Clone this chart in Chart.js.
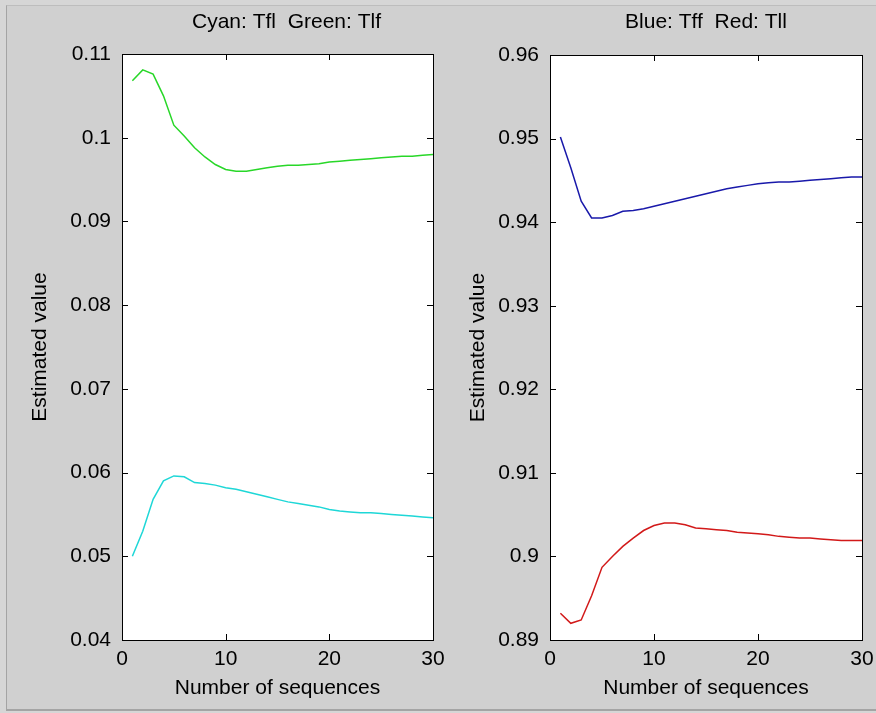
<!DOCTYPE html>
<html>
<head>
<meta charset="utf-8">
<script src="https://cdn.jsdelivr.net/npm/chart.js@4/dist/chart.umd.min.js"></script>
<style>
  body { margin: 0; background: #d6d6d6; }
  #frame {
    position: absolute; left: 6px; top: 5px; width: 870px; height: 703px;
    background: #d0d0d0;
    border-left: 1px solid #a4a4a4; border-top: 1px solid #bdbdbd; border-bottom: 2px solid #a4a4a4;
  }
  canvas { position: absolute; top: 0; }
  #left { left: 0; }
  #right { left: 438px; }
</style>
</head>
<body>
<div id="frame"></div>
<canvas id="left" width="460" height="713"></canvas>
<canvas id="right" width="438" height="713"></canvas>
<script>
// x values: number of sequences
var seqs = []
for (var i = 1; i <= 30; i++) seqs.push(i)

var x_ticks = [0, 10, 20, 30]

// left panel
var tfl = [0.0500, 0.0530, 0.0568, 0.0590, 0.0596, 0.0595, 0.0588, 0.0587, 0.0585, 0.0582,
           0.0580, 0.0577, 0.0574, 0.0571, 0.0568, 0.0565, 0.0563, 0.0561, 0.0559, 0.0556,
           0.0554, 0.0553, 0.0552, 0.0552, 0.0551, 0.0550, 0.0549, 0.0548, 0.0547, 0.0546]
var tlf = [0.1068, 0.1081, 0.1076, 0.1050, 0.1015, 0.1002, 0.0988, 0.0977, 0.0968, 0.0962,
           0.0960, 0.0960, 0.0962, 0.0964, 0.0966, 0.0967, 0.0967, 0.0968, 0.0969, 0.0971,
           0.0972, 0.0973, 0.0974, 0.0975, 0.0976, 0.0977, 0.0978, 0.0978, 0.0979, 0.0980]
var left_ticks = ['0.04', '0.05', '0.06', '0.07', '0.08', '0.09', '0.1', '0.11']

// right panel
var tff = [0.9502, 0.9465, 0.9425, 0.9405, 0.9405, 0.9408, 0.9413, 0.9414, 0.9416, 0.9419,
           0.9422, 0.9425, 0.9428, 0.9431, 0.9434, 0.9437, 0.9440, 0.9442, 0.9444, 0.9446,
           0.9447, 0.9448, 0.9448, 0.9449, 0.9450, 0.9451, 0.9452, 0.9453, 0.9454, 0.9454]
var tll = [0.8932, 0.8920, 0.8924, 0.8953, 0.8987, 0.9000, 0.9012, 0.9022, 0.9031, 0.9037,
           0.9040, 0.9040, 0.9038, 0.9034, 0.9033, 0.9032, 0.9031, 0.9029, 0.9028, 0.9027,
           0.9026, 0.9024, 0.9023, 0.9022, 0.9022, 0.9021, 0.9020, 0.9019, 0.9019, 0.9019]
var right_ticks = ['0.89', '0.9', '0.91', '0.92', '0.93', '0.94', '0.95', '0.96']

var font_name = '"Liberation Sans", Arial, sans-serif'

// white box, inward ticks on all four sides, title on top
var boxPlugin = {
    id: 'box',
    beforeDraw: function (chart) {
        let a = chart.chartArea
        let ctx = chart.ctx
        ctx.save()
        ctx.fillStyle = '#ffffff'
        ctx.fillRect(a.left, a.top, a.right - a.left, a.bottom - a.top)
        ctx.restore()
    },
    afterDraw: function (chart) {
        let a = chart.chartArea
        let ctx = chart.ctx
        let xs = chart.scales.x
        let ys = chart.scales.y
        let opts = chart.options.plugins.box
        ctx.save()
        ctx.strokeStyle = '#000000'
        ctx.lineWidth = 1
        ctx.strokeRect(Math.round(a.left) + 0.5, Math.round(a.top) + 0.5,
                       Math.round(a.right - a.left), Math.round(a.bottom - a.top))
        ctx.beginPath()
        xs.ticks.forEach(function (t) {
            let px = Math.round(xs.getPixelForValue(t.value)) + 0.5
            ctx.moveTo(px, a.bottom); ctx.lineTo(px, a.bottom - 6)
            ctx.moveTo(px, a.top); ctx.lineTo(px, a.top + 6)
        })
        ys.ticks.forEach(function (t) {
            let py = Math.round(ys.getPixelForValue(t.value)) + 0.5
            ctx.moveTo(a.left, py); ctx.lineTo(a.left + 6, py)
            ctx.moveTo(a.right, py); ctx.lineTo(a.right - 6, py)
        })
        ctx.stroke()
        ctx.fillStyle = '#000000'
        ctx.font = '21px ' + font_name
        ctx.textAlign = 'center'
        ctx.textBaseline = 'middle'
        ctx.fillText(opts.text, (a.left + a.right) / 2 + opts.shift, 22)
        ctx.restore()
    }
}

// keep tick labels from pushing the plot box inward
function noEdgePadding(scale) {
    scale.paddingLeft = 0
    scale.paddingRight = 0
    scale.paddingTop = 0
    scale.paddingBottom = 0
}

function makeChart(id, title, shift, sets, yMin, yMax, yLabels, pad, yWidth) {
    var ctx = document.getElementById(id).getContext('2d')
    var datasets = sets.map(function (s) {
        return {
            data: s.data.map(function (v, i) { return { x: seqs[i], y: v } }),
            borderColor: s.color,
            borderWidth: 1.5,
            pointRadius: 0,
            tension: 0,
            fill: false
        }
    })
    return new Chart(ctx, {
        type: 'line',
        data: { datasets: datasets },
        plugins: [boxPlugin],
        options: {
            responsive: false,
            animation: false,
            layout: { padding: pad },
            plugins: {
                legend: { display: false },
                tooltip: { enabled: false },
                box: { text: title, shift: shift }
            },
            scales: {
                x: {
                    type: 'linear',
                    min: x_ticks[0],
                    max: x_ticks[x_ticks.length - 1],
                    afterBuildTicks: function (scale) {
                        scale.ticks = x_ticks.map(function (v) { return { value: v } })
                    },
                    afterFit: function (scale) {
                        scale.height = 73
                        noEdgePadding(scale)
                    },
                    grid: { display: false, drawTicks: false },
                    border: { display: false },
                    ticks: {
                        color: '#000000',
                        padding: 7,
                        maxRotation: 0,
                        font: { family: font_name, size: 21 }
                    },
                    title: {
                        display: true,
                        text: 'Number of sequences',
                        color: '#000000',
                        padding: { top: 0, bottom: 12 },
                        font: { family: font_name, size: 21 }
                    }
                },
                y: {
                    type: 'linear',
                    min: yMin,
                    max: yMax,
                    afterBuildTicks: function (scale) {
                        scale.ticks = yLabels.map(function (v) { return { value: parseFloat(v) } })
                    },
                    afterFit: function (scale) {
                        scale.width = yWidth
                        noEdgePadding(scale)
                    },
                    grid: { display: false, drawTicks: false },
                    border: { display: false },
                    ticks: {
                        color: '#000000',
                        padding: 11,
                        font: { family: font_name, size: 21 },
                        callback: function (value, index) { return yLabels[index] }
                    },
                    title: {
                        display: true,
                        text: 'Estimated value',
                        color: '#000000',
                        padding: { top: 28, bottom: 0 },
                        font: { family: font_name, size: 21 }
                    }
                }
            }
        }
    })
}

makeChart('left', 'Cyan: Tfl  Green: Tlf', 9,
    [{ data: tfl, color: 'rgb(30,215,215)' }, { data: tlf, color: 'rgb(40,215,40)' }],
    0.04, 0.11, left_ticks, { left: 0, top: 54, right: 27, bottom: 0 }, 122)

makeChart('right', 'Blue: Tff  Red: Tll', 0,
    [{ data: tff, color: 'rgb(25,25,170)' }, { data: tll, color: 'rgb(210,25,25)' }],
    0.89, 0.96, right_ticks, { left: 0, top: 55, right: 14, bottom: 0 }, 112)
</script>
</body>
</html>
